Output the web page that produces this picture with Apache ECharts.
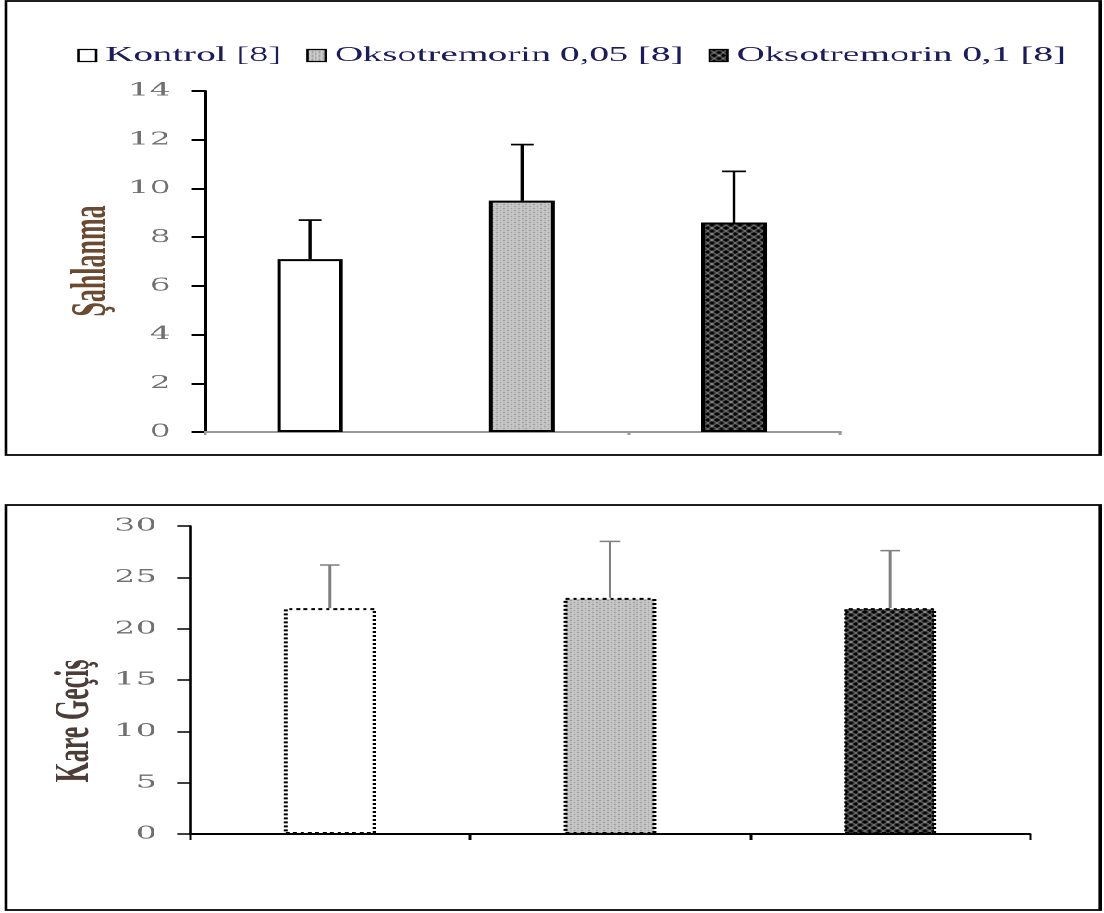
<!DOCTYPE html>
<html>
<head>
<meta charset="utf-8">
<script src="https://cdn.jsdelivr.net/npm/echarts@6/dist/echarts.min.js"></script>
<style>
  html, body { margin: 0; padding: 0; background: #fff; overflow: hidden; }
  #main { height: 913px; transform-origin: 0 0; background: #fff; }
</style>
</head>
<body>
<div id="main"></div>
<script>
// ---- data ----
const categories = ['Kontrol [8]', 'Oksotremorin 0,05 [8]', 'Oksotremorin 0,1 [8]'];
const sahlanmaMean = [7.1, 9.5, 8.6];
const sahlanmaErr = [1.6, 2.3, 2.1];
const kareMean = [22.0, 23.0, 22.0];
const kareErr = [4.2, 5.5, 5.6];
const sahlanmaTicks = { min: 0, max: 14, interval: 2 };
const kareTicks = { min: 0, max: 30, interval: 5 };
const yTitleTop = 'Şahlanma';
const yTitleBottom = 'Kare Geçiş';

// ---- layout (the original picture is horizontally stretched) ----
const S = 1.85;
const W = 1104 / S;
function sx(x) { return x / S; }
const el = document.getElementById('main');
el.style.width = W + 'px';
el.style.transform = 'scaleX(' + S + ')';

// ---- fill patterns ----
function makeCanvas(w, h, fn) {
  const c = document.createElement('canvas');
  c.width = w; c.height = h;
  const ctx = c.getContext('2d');
  fn(ctx);
  return c;
}
const lightPat = makeCanvas(4, 4, function (ctx) {
  ctx.fillStyle = '#cdcdcd'; ctx.fillRect(0, 0, 4, 4);
  ctx.fillStyle = '#7c7c7c'; ctx.fillRect(0, 0, 1, 1); ctx.fillRect(2, 2, 1, 1);
  ctx.fillStyle = '#a8a8a8'; ctx.fillRect(2, 0, 1, 1); ctx.fillRect(0, 2, 1, 1);
});
const darkPat = makeCanvas(5, 6, function (ctx) {
  ctx.fillStyle = '#000'; ctx.fillRect(0, 0, 5, 6);
  ctx.strokeStyle = '#c4c4c4'; ctx.lineWidth = 0.8;
  for (let dx = -5; dx <= 5; dx += 5) {
    for (let dy = -6; dy <= 6; dy += 6) {
      ctx.beginPath(); ctx.moveTo(dx, dy); ctx.lineTo(dx + 5, dy + 6); ctx.stroke();
      ctx.beginPath(); ctx.moveTo(dx + 5, dy); ctx.lineTo(dx, dy + 6); ctx.stroke();
    }
  }
});
const fills = ['#ffffff', { image: lightPat, repeat: 'repeat' }, { image: darkPat, repeat: 'repeat' }];

function onlyAt(arr, i) { return arr.map(function (v, j) { return j === i ? v : '-'; }); }

function barSeries(values, grid, borderType, widthPct) {
  return categories.map(function (name, i) {
    return {
      type: 'bar', name: name,
      xAxisIndex: grid, yAxisIndex: grid,
      data: onlyAt(values, i),
      barWidth: widthPct, barGap: '-100%',
      itemStyle: { color: fills[i], borderColor: '#000', borderWidth: 2, borderType: borderType },
      emphasis: { disabled: true },
      z: 2
    };
  });
}

function errSeries(means, errs, grid, color, lw, cap) {
  return {
    type: 'custom', name: 'err' + grid,
    xAxisIndex: grid, yAxisIndex: grid,
    data: means.map(function (m, i) { return [i, m, m + errs[i]]; }),
    encode: { x: 0, y: [1, 2] },
    z: 5, silent: true,
    renderItem: function (params, api) {
      const x = api.value(0);
      const p0 = api.coord([x, api.value(1)]);
      const p1 = api.coord([x, api.value(2)]);
      const st = { stroke: color, lineWidth: lw };
      return {
        type: 'group',
        children: [
          { type: 'line', shape: { x1: p0[0], y1: p0[1], x2: p1[0], y2: p1[1] }, style: st },
          { type: 'line', shape: { x1: p1[0] - cap / 2, y1: p1[1], x2: p1[0] + cap / 2, y2: p1[1] }, style: st }
        ]
      };
    }
  };
}

const labelStyle = { fontFamily: 'DejaVu Serif', fontSize: 18, color: '#707070' };

function yTitle(text, x, y, color) {
  return {
    type: 'text', x: x, y: y, rotation: Math.PI / 2, silent: true,
    style: { text: text, fontFamily: 'Liberation Serif', fontWeight: 'bold', fontSize: 26,
             fill: color, align: 'center', verticalAlign: 'middle' }
  };
}

const chart = echarts.init(el, null, { renderer: 'canvas', devicePixelRatio: 2 });
chart.setOption({
  animation: false,
  backgroundColor: '#ffffff',
  legend: {
    data: categories.map(function (n) {
      return { name: n, itemStyle: { borderColor: '#000', borderWidth: 1.3, borderType: 'solid' } };
    }),
    left: sx(77), top: 45, padding: 0,
    icon: 'rect',
    itemWidth: sx(18), itemHeight: 12, itemGap: sx(25),
    textStyle: { fontFamily: 'Liberation Serif', fontSize: 21, color: '#1c1c5c' },
    selectedMode: false
  },
  grid: [
    { left: sx(204), top: 91, width: sx(840 - 204), height: 341 },
    { left: sx(190), top: 526, width: sx(1030 - 190), height: 308 }
  ],
  xAxis: [
    {
      type: 'category', gridIndex: 0, data: categories,
      axisLine: { lineStyle: { color: '#999', width: 2 } },
      axisTick: { show: true, length: 3, lineStyle: { color: '#999', width: 1.5 } },
      axisLabel: { show: false }
    },
    {
      type: 'category', gridIndex: 1, data: categories,
      axisLine: { lineStyle: { color: '#000', width: 2 } },
      axisTick: { show: true, length: 6, lineStyle: { color: '#000', width: 1.5 } },
      axisLabel: { show: false }
    }
  ],
  yAxis: [
    {
      type: 'value', gridIndex: 0,
      min: sahlanmaTicks.min, max: sahlanmaTicks.max, interval: sahlanmaTicks.interval,
      axisLine: { show: true, lineStyle: { color: '#000', width: 2 } },
      axisTick: { show: true, length: sx(12), lineStyle: { color: '#000', width: 2 } },
      axisLabel: Object.assign({ margin: 18 }, labelStyle),
      splitLine: { show: false }
    },
    {
      type: 'value', gridIndex: 1,
      min: kareTicks.min, max: kareTicks.max, interval: kareTicks.interval,
      axisLine: { show: true, lineStyle: { color: '#000', width: 1.8 } },
      axisTick: { show: true, length: sx(13), lineStyle: { color: '#000', width: 1.5 } },
      axisLabel: Object.assign({ margin: 18 }, labelStyle),
      splitLine: { show: false }
    }
  ],
  graphic: [
    { type: 'rect', shape: { x: sx(6), y: 1, width: sx(1100 - 6), height: 454 },
      style: { fill: 'none', stroke: '#000', lineWidth: 1.8 }, silent: true, z: 0 },
    { type: 'rect', shape: { x: sx(6), y: 505, width: sx(1100 - 6), height: 405 },
      style: { fill: 'none', stroke: '#000', lineWidth: 1.8 }, silent: true, z: 0 },
    yTitle(yTitleTop, sx(92), 261, '#6b4a32'),
    yTitle(yTitleBottom, sx(75), 721, '#4d3d38')
  ],
  series: [].concat(
    barSeries(sahlanmaMean, 0, 'solid', '31%'),
    barSeries(kareMean, 1, 'dotted', '33%'),
    [errSeries(sahlanmaMean, sahlanmaErr, 0, '#000', 1.7, sx(23)),
     errSeries(kareMean, kareErr, 1, '#808080', 1.5, sx(20))]
  )
});
</script>
</body>
</html>
